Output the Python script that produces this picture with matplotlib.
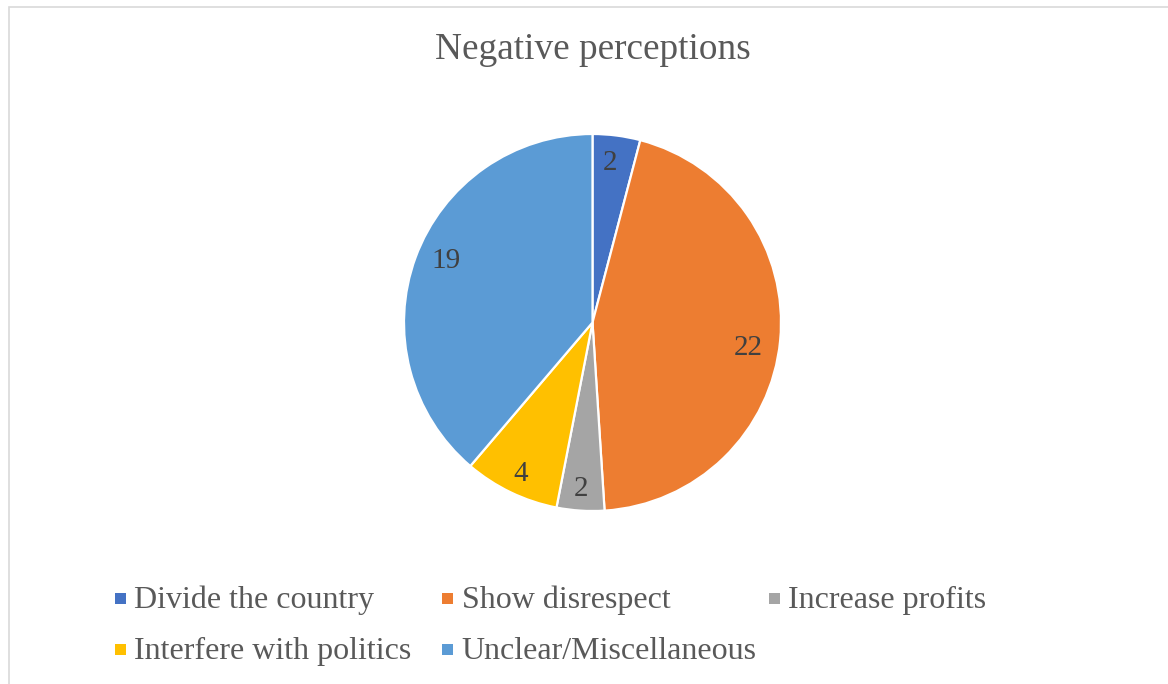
import numpy as np
import matplotlib
matplotlib.use("Agg")
import matplotlib.pyplot as plt
from matplotlib.patches import Rectangle

categories = ["Divide the country", "Show disrespect", "Increase profits",
              "Interfere with politics", "Unclear/Miscellaneous"]
values = [2, 22, 2, 4, 19]
colors = ["#4472C4", "#ED7D31", "#A5A5A5", "#FFC000", "#5B9BD5"]
title = "Negative perceptions"

plt.rcParams["font.family"] = ["Liberation Serif", "DejaVu Serif"]
W, H = 1168, 684
fig = plt.figure(figsize=(W / 100, H / 100), dpi=100)
fig.patch.set_facecolor("white")

# chart frame
fig.add_artist(Rectangle((9 / W, -0.05), 1.1, (H - 7) / H + 0.05, transform=fig.transFigure,
                         fill=False, edgecolor="#D9D9D9", linewidth=1.2))

cx, cy, r = 592.5, 322.5, 188.5
ax = fig.add_axes([(cx - r) / W, (H - cy - r) / H, 2 * r / W, 2 * r / H])
wedges, _ = ax.pie(values, colors=colors, startangle=90, counterclock=False,
                   radius=1.0, wedgeprops=dict(edgecolor="white", linewidth=1.6))
ax.set_xlim(-1, 1)
ax.set_ylim(-1, 1)
ax.set_aspect("equal")
ax.axis("off")

# data labels inside each slice (radius fraction, angular nudge in degrees)
label_r = [0.862, 0.837, 0.875, 0.879, 0.847]
label_nudge = [1.3, -2.9, -0.3, 0.1, -3.2]
for w, v, lr, dn in zip(wedges, values, label_r, label_nudge):
    ang = np.deg2rad((w.theta1 + w.theta2) / 2 + dn)
    ax.text(lr * np.cos(ang), lr * np.sin(ang) - 0.012, str(v), ha="center", va="center",
            fontsize=21, color="#404040")

fig.text(cx / W, 1 - 50 / H, title, ha="center", va="center", fontsize=26.8, color="#595959")

# legend
rows = [598.5, 649.5]
cols = [120, 447.5, 774]
pos = [(cols[0], rows[0]), (cols[1], rows[0]), (cols[2], rows[0]),
       (cols[0], rows[1]), (cols[1], rows[1])]
for (x, y), lab, c in zip(pos, categories, colors):
    s = 11
    fig.add_artist(Rectangle(((x - s / 2) / W, 1 - (y + s / 2) / H), s / W, s / H,
                             transform=fig.transFigure, facecolor=c, edgecolor="none"))
    fig.text((x + 14) / W, 1 - (y + 2) / H, lab, ha="left", va="center", fontsize=23, color="#595959")

fig.savefig("out.png", dpi=100, facecolor="white")
